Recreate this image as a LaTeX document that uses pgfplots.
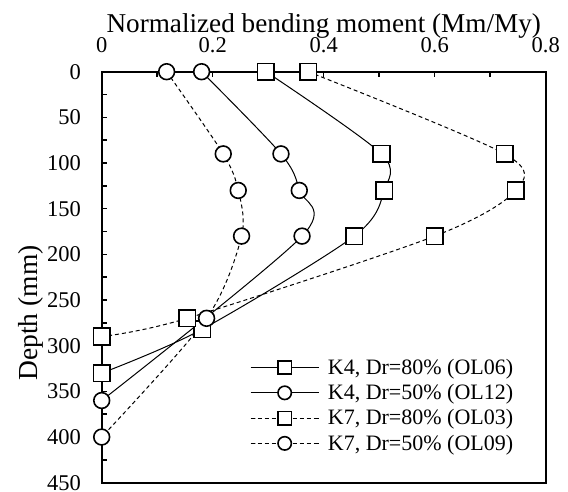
\documentclass[border=0pt]{standalone}
\usepackage{fontspec}
\setmainfont{Liberation Serif}
\usepackage{pgfplots}
\pgfplotsset{compat=1.18}
\begin{document}
\begin{tikzpicture}
\useasboundingbox (-101.7bp,-9.3bp) rectangle (466.3bp,482.7bp);
\begin{axis}[
  at={(0,0)}, anchor=south west,
  scale only axis, width=444bp, height=411bp,
  xmin=0, xmax=0.8, ymin=0, ymax=450, y dir=reverse,
  xtick={0,0.2,0.4,0.6,0.8}, minor xtick={0.1,0.3,0.5,0.7},
  ytick={0,50,...,450}, minor ytick={25,75,...,425},
  xtick pos=right, xticklabel pos=right, ytick pos=left,
  major tick length=5bp, minor tick length=5bp,
  tick align=inside,
  tick style={line width=1.5bp, black},
  axis line style={line width=2bp},
  /pgf/number format/assume math mode=true,
  /pgf/number format/fixed,
  xticklabel style={font=\fontsize{22.5bp}{27bp}\selectfont, anchor=base, inner sep=0pt, yshift=19.4bp},
  yticklabel style={font=\fontsize{22.5bp}{27bp}\selectfont, anchor=east, inner sep=0pt, xshift=-20.7bp},
  xlabel={Normalized bending moment (Mm/My)},
  xlabel style={font=\fontsize{27.2bp}{33bp}\selectfont, at={(axis description cs:0.5,1)}, anchor=base, inner sep=0pt, yshift=39.7bp},
  ylabel={Depth (mm)},
  ylabel style={font=\fontsize{27.5bp}{33bp}\selectfont, at={(axis description cs:-0.159,0.413)}, anchor=center, inner sep=0pt},
  legend cell align=left,
  legend style={draw=none, fill=none, inner sep=0pt, at={(axis description cs:0.334,0.301)}, anchor=north west,
    font=\fontsize{22bp}{26bp}\selectfont, row sep=8.5bp, column sep=8.7bp, nodes={inner sep=0pt}},
  legend image code/.code={\draw[mark repeat=2, mark phase=2, #1, mark size=6.7bp] plot coordinates {(0bp,0bp) (34bp,0bp) (68bp,0bp)};},
]
\addplot[black, smooth, line width=1bp, mark=square*, mark size=8.3bp, mark options={solid, fill=white, line width=1.6bp}]
  coordinates {(0.296,0) (0.504,90) (0.509,130) (0.455,180) (0.181,282) (0,330)};
\addlegendentry{K4, Dr=80\% (OL06)}
\addplot[black, smooth, line width=1bp, mark=*, mark size=7.9bp, mark options={solid, fill=white, line width=1.6bp}]
  coordinates {(0.180,0) (0.323,90) (0.356,130) (0.361,180) (0,360)};
\addlegendentry{K4, Dr=50\% (OL12)}
\addplot[black, smooth, line width=1bp, dash pattern=on 4bp off 3bp, mark=square*, mark size=8.3bp, mark options={solid, fill=white, line width=1.6bp}]
  coordinates {(0.372,0) (0.726,90) (0.746,130) (0.600,180) (0.154,270) (0,290)};
\addlegendentry{K7, Dr=80\% (OL03)}
\addplot[black, smooth, line width=1bp, dash pattern=on 4bp off 3bp, mark=*, mark size=7.9bp, mark options={solid, fill=white, line width=1.6bp}]
  coordinates {(0.117,0) (0.219,90) (0.246,130) (0.252,180) (0.189,270) (0,400)};
\addlegendentry{K7, Dr=50\% (OL09)}
\end{axis}
\end{tikzpicture}
\end{document}
